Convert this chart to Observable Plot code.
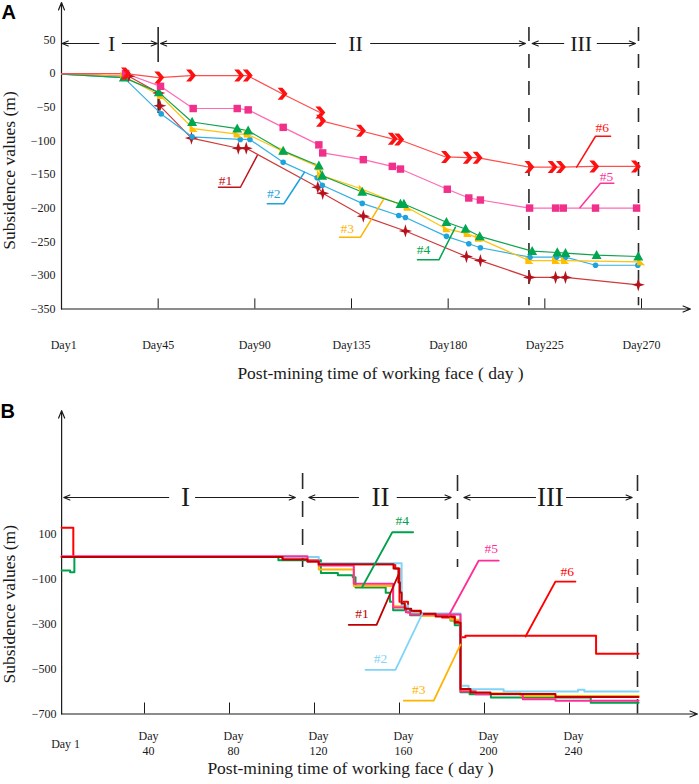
<!DOCTYPE html>
<html><head><meta charset="utf-8">
<script src="https://cdn.jsdelivr.net/npm/d3@7"></script>
<script src="https://cdn.jsdelivr.net/npm/@observablehq/plot@0.6"></script>
<style>body{margin:0;background:#fff;} #chart svg{display:block;}</style>
</head><body><div id="chart"></div>
<script>
// ---------- Panel A data ----------
const xTicksA = [1, 45, 90, 135, 180, 225, 270];
const yTicksA = [50, 0, -50, -100, -150, -200, -250, -300, -350];
const A1 = [[0,-1],[31.3,-4],[45.3,-29],[45.8,-48],[60.5,-96],[82.3,-111],[86,-111],[119.3,-169],[121.6,-178],[140.5,-212],[160.1,-234],[188.5,-272],[195,-278],[217.9,-303],[230,-303],[234.6,-303],[268.5,-314]];
const A2 = [[0,-1],[29,-6],[46.4,-60],[60.8,-94],[83.2,-98],[87.7,-98],[103.2,-132],[119,-155],[121.4,-166],[140,-193],[157,-211],[160.1,-214],[179.2,-242],[189.6,-253],[195,-259],[218.1,-273],[230.4,-273],[234.6,-273],[248.6,-285],[268.3,-285]];
const A3 = [[0,-1],[29,-4],[46.1,-33],[61.3,-82],[81.8,-90],[86.5,-90],[103.2,-116],[119.8,-139],[120.6,-151],[140.1,-172],[160.9,-199],[179.2,-231],[188.9,-238],[194.1,-245],[217.6,-278],[230,-278],[234.2,-278],[269.6,-280]];
const A4 = [[0,-1],[29,-6],[45.3,-28],[60.8,-72],[81.8,-82],[86.9,-85],[103.2,-115],[119.8,-137],[121.4,-152],[140,-176],[157.8,-194],[159.4,-194],[179.2,-221],[188.1,-231],[194.7,-242],[219.1,-264],[230.8,-266],[234.6,-267],[249.1,-270],[268.5,-272]];
const A5 = [[0,0],[29.8,0],[46.1,-19],[61.3,-52],[81.8,-52],[86.9,-54],[103.2,-80],[119.8,-106],[121.6,-118],[140.5,-128],[154,-138],[157.8,-142],[179.6,-172],[189.6,-185],[195,-188],[217.9,-200],[230,-200],[233.6,-200],[248.6,-200],[267.7,-200]];
const A6 = [[0,0],[29.8,0],[45.3,-6],[60.1,-3],[82.5,-3],[86.5,-3],[102.7,-30],[120.3,-58],[120.6,-70],[139.2,-85],[154,-97],[157,-98],[178.8,-124],[188.9,-125],[193.5,-125],[217.6,-139],[228.4,-139],[232.3,-139],[247.8,-138],[267.2,-138]];

// ---------- Panel B data (step series) ----------
const xTicksB = [1, 40, 80, 120, 160, 200, 240];
const yTicksB = [100, -100, -300, -500, -700];
const B1 = [[1,0],[105,-11],[116.7,-20],[122,-33],[157.2,-52],[159.5,-114],[160.2,-159],[161,-208],[162.5,-231],[165.5,-240],[170,-253],[177,-266],[186,-293],[188.7,-589],[193.4,-604],[202.8,-611],[233.4,-624],[272.5,-624]];
const B2 = [[1,0],[122,-28],[161,-216],[164,-247],[166,-252],[188.7,-574],[192.5,-590],[209,-600],[244,-592],[247,-600],[272.5,-600]];
const B3 = [[1,0],[116.7,-15],[122,-56],[138.5,-130],[157,-220],[164,-250],[170,-262],[184,-280],[188.7,-594],[195.8,-608],[217,-620],[272.5,-620]];
const B4 = [[1,-60],[5,-68],[7,0],[103,-15],[123,-72],[131,-82],[138,-91],[139.3,-136],[153.5,-160],[155.5,-200],[157,-238],[165,-260],[184,-283],[186,-305],[188.7,-603],[193,-612],[203,-626],[250,-650],[272.5,-650]];
const B5 = [[1,3],[116.7,-16],[122,-38],[138.5,-120],[157,-225],[163,-247],[165,-256],[188.7,-600],[195.8,-612],[218,-634],[233.4,-641],[272.5,-641]];
const B6 = [[1,130],[6.5,0],[105,-11],[116.7,-20],[122,-33],[158,-51],[160,-200],[164,-245],[170,-255],[180,-270],[186,-285],[188.5,-358],[191,-351],[252.5,-432],[272.5,-432]];

// ---------- annotations ----------
const phaseA = {y: 44.6, labels: [["I",23.3],["II",136.9],["III",241.9]],
  arrows: [[17.4,0.3],[28.3,44.6],[127.6,46.1],[143.9,216],[233.8,219.1],[249.4,267.2]],
  dashes: [[45,68.4,-59.4,"35,23"],[217.6,68.4,-345,"14,13"],[268.6,68.4,-345,"14,13"]]};
const phaseB = {y: 264.7, labels: [["I",59.3],["II",151],["III",231]],
  arrows: [[51.4,2],[64,111],[140.7,117.3],[158.9,184.3],[224,190.3],[238.6,269.5]],
  dashes: [[114.4,371.7,-47],[187.3,362.7,-47],[272,362.7,-700]]};
const leadA = [
  ["#1",76.4,-159,[[73.1,-169],[83.3,-169],[91.1,-121.9]]],
  ["#2",98.8,-178.8,[[95.8,-193.6],[103.5,-193.6],[113.1,-146.7]]],
  ["#3",133,-230.8,[[129.4,-243.3],[139.2,-243.3],[149.8,-187.7]]],
  ["#4",168.5,-261.6,[[165.7,-276.9],[175.7,-276.9],[183.4,-228.4]]],
  ["#5",253.7,-153.1,[[241.3,-199.6],[250.9,-163],[257.1,-163]]],
  ["#6",251.7,-79.8,[[239.8,-139.2],[248.6,-93.2],[255.6,-93.2]]]];
const leadB = [
  ["#1",142.4,-253.6,[[136.1,-302.6],[149.2,-302.6],[159.7,-75.3]]],
  ["#2",151.1,-454,[[144,-503],[158.1,-503],[170.7,-253.6]]],
  ["#3",169.1,-592,[[162,-640],[176.1,-640],[188.7,-390.4]]],
  ["#4",161.3,162.2,[[142.4,-135],[156.6,110],[166.4,110]]],
  ["#5",203.2,38.8,[[183.2,-261],[197.3,-16],[206.7,-16]]],
  ["#6",238.9,-63.7,[[219.3,-354.7],[233.4,-109.6],[242.8,-109.6]]]];

// ---------- styles ----------
const serif = "Liberation Serif";
const INK = "#1a1a1a";
const lineColA = {"#1":"#cf3a3a","#2":"#33b0e4","#3":"#ffc20e","#4":"#0fa24c","#5":"#ff6ab4","#6":"#ff4d4d"};
const markColA = {"#1":"#b5121b","#2":"#1fa3dd","#3":"#ffbf00","#4":"#00a650","#5":"#f0308a","#6":"#ff1010"};
const labColA = {"#1":"#c0141c","#2":"#1fa3dd","#3":"#ffb400","#4":"#00a650","#5":"#ff3399","#6":"#ff1010"};
const colB = {"#1":"#c00000","#2":"#80d4f7","#3":"#ffb400","#4":"#00a14b","#5":"#ff2d96","#6":"#ff0000"};

const rr = s => Math.sqrt(s / Math.PI);
const chevron = {draw(c, s){ const r = rr(s);
  c.moveTo(-0.75*r,-r); c.lineTo(0.05*r,-r); c.lineTo(0.9*r,0); c.lineTo(0.05*r,r); c.lineTo(-0.75*r,r); c.lineTo(0.1*r,0); c.closePath(); }};
const star4 = {draw(c, s){ const r = rr(s);
  for (let k = 0; k < 8; k++){ const a = -Math.PI/2 + k*Math.PI/4, q = k%2 ? 0.33*r : r;
    const x = q*Math.cos(a), y = q*Math.sin(a); k ? c.lineTo(x,y) : c.moveTo(x,y); } c.closePath(); }};
const tri = {draw(c, s){ const r = rr(s);
  c.moveTo(0,-r); c.lineTo(0.95*r,0.75*r); c.lineTo(-0.95*r,0.75*r); c.closePath(); }};
const rtri = {draw(c, s){ const r = rr(s);
  c.moveTo(-0.8*r,-r); c.lineTo(-0.8*r,0.75*r); c.lineTo(r,0.75*r); c.closePath(); }};
const symA = {"#1":[star4,6.6],"#2":["circle",2.8],"#3":[rtri,4.5],"#4":[tri,5.2],"#5":["square",4.2],"#6":[chevron,6]};

const rows = arr => arr.map(([day, val]) => ({day, val}));
const seriesA = [["#1",A1],["#2",A2],["#3",A3],["#4",A4],["#5",A5],["#6",A6]];
const seriesB = [["#6",B6],["#4",B4],["#3",B3],["#2",B2],["#5",B5],["#1",B1]];

// ---------- Panel A ----------
const marksA = [];
marksA.push(Plot.arrow([{x1:0,y1:-350,x2:0,y2:105.5},{x1:0,y1:-350,x2:292.8,y2:-350}],
  {x1:"x1",y1:"y1",x2:"x2",y2:"y2",stroke:INK,strokeWidth:1.2,headLength:10,headAngle:44}));
marksA.push(Plot.ruleX(xTicksA.slice(1), {x: d => d, y1: -350, y2: -335, stroke: INK, strokeWidth: 1}));
marksA.push(Plot.axisX(xTicksA, {tickSize:0, tickPadding:31, tickFormat: d => "Day" + d, fontSize: 12, fontFamily: serif, fill: INK, label: null}));
marksA.push(Plot.axisY(yTicksA, {tickSize:0, tickPadding:6, fontSize: 12, fontFamily: serif, fill: INK, label: null}));
for (const [x, y1, y2, dash] of phaseA.dashes)
  marksA.push(Plot.ruleX([x], {x: d => d, y1, y2, stroke: "#2a2a2a", strokeWidth: 1.6, strokeDasharray: dash}));
marksA.push(Plot.arrow(phaseA.arrows, {x1: d => d[0], x2: d => d[1], y1: phaseA.y, y2: phaseA.y, stroke: INK, strokeWidth: 1.1, headLength: 9, headAngle: 44}));
marksA.push(Plot.text(phaseA.labels, {x: d => d[1], y: phaseA.y, text: d => d[0], fontSize: 22, fontFamily: serif, fill: INK}));
for (const [k, arr] of seriesA)
  marksA.push(Plot.line(rows(arr), {x: "day", y: "val", stroke: lineColA[k], strokeWidth: 1.2}));
for (const [k, arr] of seriesA)
  marksA.push(Plot.dot(rows(arr).filter(d => d.day > 0), {x: "day", y: "val", symbol: symA[k][0], r: symA[k][1], fill: markColA[k], stroke: "none"}));
for (const [k, tx, ty, path] of leadA) {
  marksA.push(Plot.line(path, {x: d => d[0], y: d => d[1], stroke: labColA[k], strokeWidth: 1.5}));
  marksA.push(Plot.text([k], {x: tx, y: ty, text: d => d, fill: labColA[k], fontSize: 13.5, fontFamily: serif}));
}
marksA.push(Plot.text(["A"], {frameAnchor: "top-left", dx: -60, dy: -35, textAnchor: "start", lineAnchor: "top", fontSize: 20, fontWeight: "bold", fontFamily: "Liberation Sans", fill: "#000"}));
marksA.push(Plot.text(["Post-mining time of working face ( day )"], {frameAnchor: "bottom", textAnchor: "middle", dx: 29, dy: 70, fontSize: 17.5, fontFamily: serif, fill: INK}));
marksA.push(Plot.text(["Subsidence values (m)"], {frameAnchor: "left", textAnchor: "middle", lineAnchor: "middle", dx: -52, dy: -4, rotate: -90, fontSize: 17.5, fontFamily: serif, fill: INK}));

const plotA = Plot.plot({
  width: 699, height: 392,
  marginLeft: 61, marginRight: 58, marginTop: 39.4, marginBottom: 83.5,
  x: {domain: [0, 270]}, y: {domain: [-350, 50]},
  style: {fontFamily: serif, fontSize: "12px", color: INK, background: "#fff", overflow: "visible"},
  marks: marksA
});

// ---------- Panel B ----------
const marksB = [];
marksB.push(Plot.arrow([{x1:1,y1:-700,x2:1,y2:652},{x1:1,y1:-700,x2:300.2,y2:-700}],
  {x1:"x1",y1:"y1",x2:"x2",y2:"y2",stroke:INK,strokeWidth:1.2,headLength:10,headAngle:44}));
marksB.push(Plot.ruleX(xTicksB.slice(1), {x: d => d, y1: -700, y2: -651, stroke: INK, strokeWidth: 1}));
marksB.push(Plot.axisX(xTicksB, {tickSize:0, tickPadding:29, lineAnchor: "middle", lineHeight: 1.2, dx: 4, tickFormat: d => d === 1 ? "Day 1" : "Day\n" + d, fontSize: 12, fontFamily: serif, fill: INK, label: null}));
marksB.push(Plot.axisY(yTicksB, {tickSize:0, tickPadding:3, fontSize: 12, fontFamily: serif, fill: INK, label: null}));
for (const [x, y1, y2] of phaseB.dashes)
  marksB.push(Plot.ruleX([x], {x: d => d, y1, y2, stroke: "#2a2a2a", strokeWidth: 1.6, strokeDasharray: "16,12"}));
marksB.push(Plot.arrow(phaseB.arrows, {x1: d => d[0], x2: d => d[1], y1: phaseB.y, y2: phaseB.y, stroke: INK, strokeWidth: 1.1, headLength: 9, headAngle: 44}));
marksB.push(Plot.text(phaseB.labels, {x: d => d[1], y: phaseB.y, text: d => d[0], fontSize: 27, fontFamily: serif, fill: INK}));
for (const [k, arr] of seriesB)
  marksB.push(Plot.line(rows(arr), {x: "day", y: "val", curve: "step-after", stroke: colB[k], strokeWidth: 2}));
for (const [k, tx, ty, path] of leadB) {
  marksB.push(Plot.line(path, {x: d => d[0], y: d => d[1], stroke: colB[k], strokeWidth: 1.8}));
  marksB.push(Plot.text([k], {x: tx, y: ty, text: d => d, fill: colB[k], fontSize: 13.5, fontFamily: serif}));
}
marksB.push(Plot.text(["B"], {frameAnchor: "top-left", dx: -59, dy: -131, textAnchor: "start", lineAnchor: "top", fontSize: 20, fontWeight: "bold", fontFamily: "Liberation Sans", fill: "#000"}));
marksB.push(Plot.text(["Post-mining time of working face ( day )"], {frameAnchor: "bottom", textAnchor: "middle", dx: -6.5, dy: 60, fontSize: 17.5, fontFamily: serif, fill: INK}));
marksB.push(Plot.text(["Subsidence values (m)"], {frameAnchor: "left", textAnchor: "middle", lineAnchor: "middle", dx: -50, dy: -20, rotate: -90, fontSize: 17.5, fontFamily: serif, fill: INK}));

const plotB = Plot.plot({
  width: 699, height: 392,
  marginLeft: 59, marginRight: 45, marginTop: 142, marginBottom: 70.5,
  x: {domain: [0, 280]}, y: {domain: [-700, 100]},
  style: {fontFamily: serif, fontSize: "12px", color: INK, background: "#fff", overflow: "visible"},
  marks: marksB
});

const root = document.getElementById("chart");
root.append(plotA, plotB);
</script>
</body></html>
